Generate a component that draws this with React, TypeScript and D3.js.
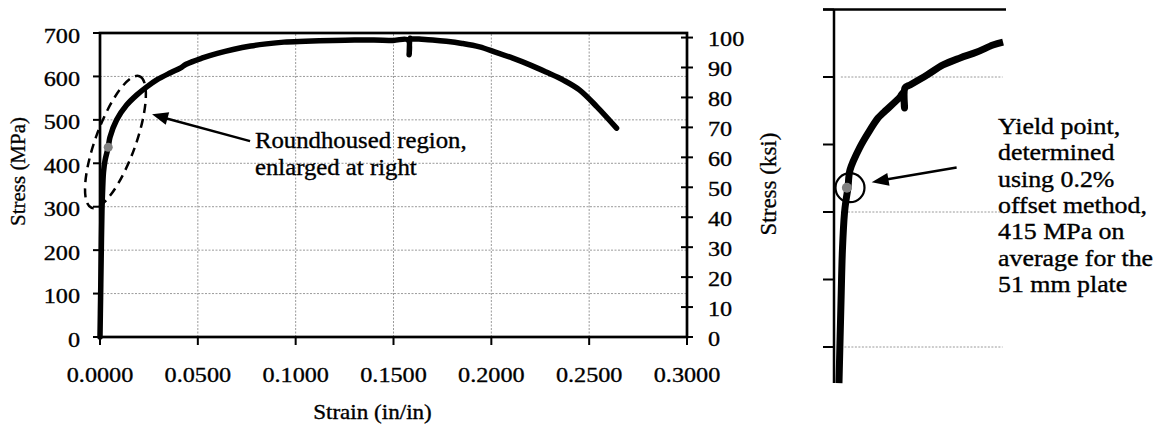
import React from 'react';
import * as d3 from 'd3';

// ---------- Main stress-strain curve (strain in/in, stress MPa) ----------
const strain = [0, 0.0003, 0.0006, 0.001, 0.0014, 0.0018, 0.0026, 0.0042, 0.0051, 0.0085, 0.0136, 0.0187, 0.0239, 0.029, 0.0358, 0.041, 0.044, 0.052, 0.06, 0.068, 0.077, 0.085, 0.094, 0.105, 0.119, 0.13, 0.14, 0.15, 0.1575, 0.158, 0.1585, 0.159, 0.163, 0.17, 0.177, 0.185, 0.194, 0.202, 0.211, 0.22, 0.228, 0.237, 0.245, 0.254, 0.264];
const stressMPa = [0, 90, 180, 290, 345, 380, 407, 437, 460, 500, 534, 557, 576, 592, 608, 619, 628, 642, 653, 662, 670, 675, 679, 681, 683, 684, 684, 683, 684, 650, 688, 687, 686, 684, 681, 676, 668, 656, 642, 626, 610, 591, 569, 530, 481];

// yield point marker (main)
const yieldStrain = 0.0042;
const yieldMPa = 437;

// ---------- Inset (enlarged region), strain in/in and stress ksi ----------
const insetStrain = [0.00029, 0.00041, 0.00049, 0.00061, 0.0007, 0.00081, 0.00093, 0.00151, 0.00209, 0.00256, 0.00285, 0.00384, 0.00401, 0.0041, 0.00413, 0.00442, 0.00541, 0.00634, 0.00733, 0.00831, 0.00924, 0.00983];
const insetKsi = [47.33, 53.48, 57.19, 59.93, 60.89, 61.78, 63.11, 64.81, 66.07, 66.96, 67.33, 68.52, 68.81, 67.7, 69.2, 69.41, 70.15, 70.89, 71.41, 71.85, 72.37, 72.59];
const insetYieldStrain = 0.00075;
const insetYieldKsi = 61.8;

// ---------- Ticks ----------
const xTicks = [0, 0.05, 0.1, 0.15, 0.2, 0.25, 0.3];
const yTicksMPa = [0, 100, 200, 300, 400, 500, 600, 700];
const yTicksKsi = [0, 10, 20, 30, 40, 50, 60, 70, 80, 90, 100];
const insetTicks = [50, 55, 60, 65, 70, 75];
const insetGrid = [50, 60, 70];

// ---------- Texts ----------
const leftNote = ['Roundhoused region,', 'enlarged at right'];
const rightNote = ['Yield point,', 'determined', 'using 0.2%', 'offset method,', '415 MPa on', 'average for the', '51 mm plate'];

const FONT = '"Liberation Serif", "Times New Roman", serif';
const GRID = '#9a9a9a';

function arrowHead(tip: [number, number], tail: [number, number], len: number, half: number) {
  const dx = tail[0] - tip[0];
  const dy = tail[1] - tip[1];
  const L = Math.hypot(dx, dy);
  const ux = dx / L, uy = dy / L;
  const bx = tip[0] + ux * len, by = tip[1] + uy * len;
  const px = -uy, py = ux;
  return `M${tip[0]},${tip[1]}L${bx + px * half},${by + py * half}L${bx - px * half},${by - py * half}Z`;
}

function T(props: { x: number; y: number; anchor?: string; size: number; sx?: number; children: React.ReactNode }) {
  const { x, y, anchor = 'start', size, sx = 1.1, children } = props;
  return (
    <text transform={`translate(${x},${y}) scale(${sx},1)`} textAnchor={anchor} fontSize={size} fontFamily={FONT} fill="#000" stroke="#000" strokeWidth={0.35}>
      {children}
    </text>
  );
}

export default function App() {
  const x = d3.scaleLinear().domain([0, 0.3]).range([100, 687]);
  const y = d3.scaleLinear().domain([0, 700]).range([337, 33]);
  const yK = d3.scaleLinear().domain([0, 700 / 6.895]).range([337, 33]);

  const ix = d3.scaleLinear().domain([0, 0.01]).range([834, 1006]);
  const iy = d3.scaleLinear().domain([45, 75]).range([414.5, 9.5]);

  const mainPts = strain.map((s, i) => [s, stressMPa[i]] as [number, number]);
  const mainLine = d3.line<[number, number]>().x(d => x(d[0])).y(d => y(d[1])).curve(d3.curveCatmullRom.alpha(0.5))(mainPts) || '';

  const insetPts = insetStrain.map((s, i) => [s, insetKsi[i]] as [number, number]);
  const insetLine = d3.line<[number, number]>().x(d => ix(d[0])).y(d => iy(d[1])).curve(d3.curveCatmullRom.alpha(0.5))(insetPts) || '';

  // annotation geometry (in data units, mapped through scales)
  const ellC: [number, number] = [x(0.0079), y(449)];
  const arrTip: [number, number] = [x(0.0266), y(513)];
  const arrTail: [number, number] = [x(0.0767), y(451)];
  const noteX = x(0.0792);

  const iArrTip: [number, number] = [ix(0.00219), iy(62.2)];
  const iArrTail: [number, number] = [ix(0.00713), iy(63.3)];
  const iCircle: [number, number] = [ix(0.00093), iy(61.8)];

  return (
    <svg width={1160} height={429} style={{ position: 'absolute', left: 0, top: 0, background: '#fff' }}>
      <rect x={0} y={0} width={1160} height={429} fill="#fff" />

      {/* ---------- main grid ---------- */}
      {yTicksMPa.filter(v => v > 0 && v < 700).map(v => (
        <line key={'gy' + v} x1={x(0)} x2={x(0.3)} y1={y(v)} y2={y(v)} stroke={GRID} strokeWidth={1} strokeDasharray="2 1.5" />
      ))}
      {xTicks.filter(v => v > 0 && v < 0.3).map(v => (
        <line key={'gx' + v} x1={x(v)} x2={x(v)} y1={y(0)} y2={y(700)} stroke={GRID} strokeWidth={1} strokeDasharray="2 1.5" />
      ))}

      {/* ---------- main frame ---------- */}
      <rect x={x(0)} y={y(700)} width={x(0.3) - x(0)} height={y(0) - y(700)} fill="none" stroke="#000" strokeWidth={2.7} />

      {/* left ticks */}
      {yTicksMPa.map(v => (
        <g key={'ly' + v}>
          <line x1={x(0) - 7} x2={x(0)} y1={y(v)} y2={y(v)} stroke="#000" strokeWidth={2} />
          <T x={80} y={y(v) + 9.5} anchor="end" size={22}>{v}</T>
        </g>
      ))}
      {/* right ticks (ksi) */}
      {yTicksKsi.map(v => (
        <g key={'ry' + v}>
          <line x1={x(0.3) - 6} x2={x(0.3) + 6} y1={yK(v)} y2={yK(v)} stroke="#000" strokeWidth={2} />
          <T x={708} y={yK(v) + 8.5} anchor="start" size={22}>{v}</T>
        </g>
      ))}
      {/* bottom ticks */}
      {xTicks.map(v => (
        <g key={'bx' + v}>
          <line x1={x(v)} x2={x(v)} y1={y(0)} y2={y(0) + 8} stroke="#000" strokeWidth={2} />
          <T x={x(v)} y={382} anchor="middle" size={22}>{v.toFixed(4)}</T>
        </g>
      ))}

      {/* axis titles */}
      <text transform="translate(25,171.5) rotate(-90)" textAnchor="middle" fontSize={21} fontFamily={FONT} stroke="#000" strokeWidth={0.3}>Stress (MPa)</text>
      <T x={372.5} y={419} anchor="middle" size={21}>Strain (in/in)</T>
      <text transform="translate(776,184) rotate(-90)" textAnchor="middle" fontSize={23} fontFamily={FONT} stroke="#000" strokeWidth={0.3}>Stress (ksi)</text>

      {/* main curve */}
      <path d={mainLine} fill="none" stroke="#000" strokeWidth={5.5} strokeLinejoin="round" strokeLinecap="round" />
      <circle cx={x(yieldStrain)} cy={y(yieldMPa)} r={4.5} fill="#808080" />

      {/* dashed ellipse */}
      <ellipse cx={ellC[0]} cy={ellC[1]} rx={70} ry={20} transform={`rotate(-70,${ellC[0]},${ellC[1]})`} fill="none" stroke="#000" strokeWidth={2.5} strokeDasharray="9 6" />

      {/* arrow to ellipse */}
      <line x1={arrTail[0]} y1={arrTail[1]} x2={arrTip[0] + 10} y2={arrTip[1] + 3} stroke="#000" strokeWidth={2.5} />
      <path d={arrowHead(arrTip, arrTail, 16, 6.5)} fill="#000" />
      {leftNote.map((t, i) => (
        <T key={'ln' + i} x={noteX} y={147.5 + i * 27.5} size={22.5}>{t}</T>
      ))}

      {/* ---------- inset ---------- */}
      {insetGrid.map(v => (
        <line key={'ig' + v} x1={ix(0.0004)} x2={ix(0.0098)} y1={iy(v)} y2={iy(v)} stroke={GRID} strokeWidth={1} strokeDasharray="2 1.5" />
      ))}
      {insetTicks.map(v => (
        <line key={'it' + v} x1={823} x2={ix(0)} y1={iy(v)} y2={iy(v)} stroke="#000" strokeWidth={2} />
      ))}
      <line x1={ix(0)} x2={ix(0)} y1={iy(75)} y2={iy(47.33)} stroke="#000" strokeWidth={2.5} />
      <line x1={823} x2={ix(0.01)} y1={iy(75)} y2={iy(75)} stroke="#000" strokeWidth={2.7} />

      <path d={insetLine} fill="none" stroke="#000" strokeWidth={7} strokeLinejoin="round" strokeLinecap="butt" />
      <circle cx={ix(insetYieldStrain)} cy={iy(insetYieldKsi)} r={5} fill="#808080" />
      <circle cx={iCircle[0]} cy={iCircle[1]} r={14.5} fill="none" stroke="#000" strokeWidth={2.2} />

      <line x1={iArrTail[0]} y1={iArrTail[1]} x2={iArrTip[0] + 10} y2={iArrTip[1] - 2} stroke="#000" strokeWidth={2.5} />
      <path d={arrowHead(iArrTip, iArrTail, 17, 6.5)} fill="#000" />

      {rightNote.map((t, i) => (
        <T key={'rn' + i} x={998} y={134 + i * 26.35} size={22.5} sx={1.15}>{t}</T>
      ))}
    </svg>
  );
}
